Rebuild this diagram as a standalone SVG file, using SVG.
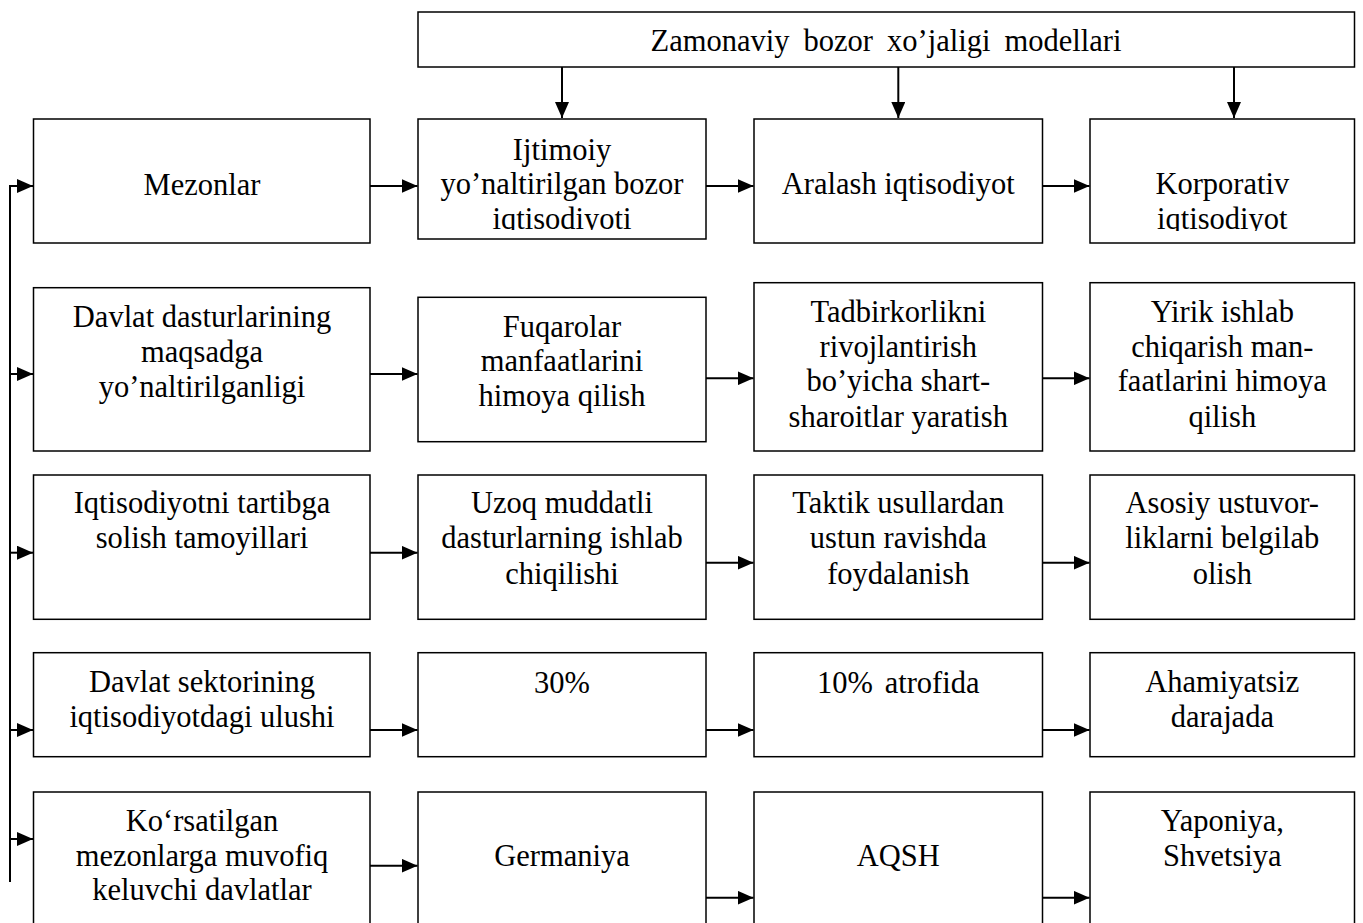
<svg xmlns="http://www.w3.org/2000/svg" width="1363" height="923" viewBox="0 0 1363 923">
<style>
.box{fill:#fff;stroke:#000;stroke-width:1.5}
.t{font-family:"Liberation Serif","Times New Roman",serif;font-size:30.5px;fill:#000;text-anchor:middle}
.c{fill:none;stroke:#000;stroke-width:2}
</style>
<defs>
<marker id="ah" markerUnits="userSpaceOnUse" markerWidth="16" markerHeight="14" refX="16" refY="7" orient="auto">
<path d="M0,0 L16,7 L0,14 z" fill="#000"/>
</marker>
<clipPath id="clipA"><rect x="418" y="100" width="288" height="130"/></clipPath>
<clipPath id="clipB"><rect x="1090" y="100" width="265" height="131"/></clipPath>
</defs>
<rect width="1363" height="923" fill="#fff"/>

<g id="top">
<rect class="box" x="418" y="12" width="936.5" height="55"/>
<text class="t" x="886" y="51" word-spacing="6.5">Zamonaviy bozor xo’jaligi modellari</text>
</g>

<g id="r1c1"><rect class="box" x="33.5" y="119" width="336.5" height="124"/>
<text class="t" x="202" y="195">Mezonlar</text></g>
<g id="r1c2"><rect class="box" x="418" y="119" width="288" height="120"/>
<g clip-path="url(#clipA)"><text class="t" x="562" y="159.5">Ijtimoiy</text>
<text class="t" x="562" y="194.3">yo’naltirilgan bozor</text>
<text class="t" x="562" y="228.8">iqtisodiyoti</text></g></g>
<g id="r1c3"><rect class="box" x="754" y="119" width="288.5" height="124"/>
<text class="t" x="898.3" y="194.3">Aralash iqtisodiyot</text></g>
<g id="r1c4"><rect class="box" x="1090" y="119" width="264.5" height="124"/>
<g clip-path="url(#clipB)"><text class="t" x="1222.3" y="194.3">Korporativ</text>
<text class="t" x="1222.3" y="228.8">iqtisodiyot</text></g></g>

<g id="r2c1"><rect class="box" x="33.5" y="287.7" width="336.5" height="163.3"/>
<text class="t" x="202" y="326.7">Davlat dasturlarining</text>
<text class="t" x="202" y="361.7">maqsadga</text>
<text class="t" x="202" y="396.7">yo’naltirilganligi</text></g>
<g id="r2c2"><rect class="box" x="418" y="297.3" width="288" height="144.4"/>
<text class="t" x="562" y="336.7">Fuqarolar</text>
<text class="t" x="562" y="371.3">manfaatlarini</text>
<text class="t" x="562" y="406">himoya qilish</text></g>
<g id="r2c3"><rect class="box" x="754" y="282.7" width="288.5" height="168.3"/>
<text class="t" x="898.3" y="321.7">Tadbirkorlikni</text>
<text class="t" x="898.3" y="356.5">rivojlantirish</text>
<text class="t" x="898.3" y="391">bo’yicha shart-</text>
<text class="t" x="898.3" y="426.5">sharoitlar yaratish</text></g>
<g id="r2c4"><rect class="box" x="1090" y="282.7" width="264.5" height="168.3"/>
<text class="t" x="1222.3" y="321.7">Yirik ishlab</text>
<text class="t" x="1222.3" y="356.5">chiqarish man-</text>
<text class="t" x="1222.3" y="391">faatlarini himoya</text>
<text class="t" x="1222.3" y="426.5">qilish</text></g>

<g id="r3c1"><rect class="box" x="33.5" y="475" width="336.5" height="144.3"/>
<text class="t" x="202" y="513.3">Iqtisodiyotni tartibga</text>
<text class="t" x="202" y="548.3">solish tamoyillari</text></g>
<g id="r3c2"><rect class="box" x="418" y="475" width="288" height="144.3"/>
<text class="t" x="562" y="513.3">Uzoq muddatli</text>
<text class="t" x="562" y="548.3">dasturlarning ishlab</text>
<text class="t" x="562" y="583.8">chiqilishi</text></g>
<g id="r3c3"><rect class="box" x="754" y="475" width="288.5" height="144.3"/>
<text class="t" x="898.3" y="513.3">Taktik usullardan</text>
<text class="t" x="898.3" y="548.3">ustun ravishda</text>
<text class="t" x="898.3" y="583.8">foydalanish</text></g>
<g id="r3c4"><rect class="box" x="1090" y="475" width="264.5" height="144.3"/>
<text class="t" x="1222.3" y="513.3">Asosiy ustuvor-</text>
<text class="t" x="1222.3" y="548.3">liklarni belgilab</text>
<text class="t" x="1222.3" y="583.8">olish</text></g>

<g id="r4c1"><rect class="box" x="33.5" y="652.7" width="336.5" height="104"/>
<text class="t" x="202" y="691.7">Davlat sektorining</text>
<text class="t" x="202" y="726.7">iqtisodiyotdagi ulushi</text></g>
<g id="r4c2"><rect class="box" x="418" y="652.7" width="288" height="104"/>
<text class="t" x="562" y="692.5">30%</text></g>
<g id="r4c3"><rect class="box" x="754" y="652.7" width="288.5" height="104"/>
<text class="t" x="898.3" y="692.5" word-spacing="4">10% atrofida</text></g>
<g id="r4c4"><rect class="box" x="1090" y="652.7" width="264.5" height="104"/>
<text class="t" x="1222.3" y="691.7">Ahamiyatsiz</text>
<text class="t" x="1222.3" y="726.7">darajada</text></g>

<g id="r5c1"><rect class="box" x="33.5" y="792" width="336.5" height="160"/>
<text class="t" x="202" y="830.7">Ko‘rsatilgan</text>
<text class="t" x="202" y="865.7">mezonlarga muvofiq</text>
<text class="t" x="202" y="900">keluvchi davlatlar</text></g>
<g id="r5c2"><rect class="box" x="418" y="792" width="288" height="160"/>
<text class="t" x="562" y="865.7">Germaniya</text></g>
<g id="r5c3"><rect class="box" x="754" y="792" width="288.5" height="160"/>
<text class="t" x="898.3" y="865.7">AQSH</text></g>
<g id="r5c4"><rect class="box" x="1090" y="792" width="264.5" height="160"/>
<text class="t" x="1222.3" y="830.7">Yaponiya,</text>
<text class="t" x="1222.3" y="865.7">Shvetsiya</text></g>

<g id="connectors">
<line class="c" x1="562" y1="67" x2="562" y2="118" marker-end="url(#ah)"/>
<line class="c" x1="898.3" y1="67" x2="898.3" y2="118" marker-end="url(#ah)"/>
<line class="c" x1="1234" y1="67" x2="1234" y2="118" marker-end="url(#ah)"/>

<path class="c" d="M10,882 V186 H33" marker-end="url(#ah)"/>
<line class="c" x1="10" y1="374" x2="33" y2="374" marker-end="url(#ah)"/>
<line class="c" x1="10" y1="552.7" x2="33" y2="552.7" marker-end="url(#ah)"/>
<line class="c" x1="10" y1="730" x2="33" y2="730" marker-end="url(#ah)"/>
<line class="c" x1="10" y1="839" x2="33" y2="839" marker-end="url(#ah)"/>

<line class="c" x1="370" y1="186" x2="417.5" y2="186" marker-end="url(#ah)"/>
<line class="c" x1="706" y1="186" x2="753.5" y2="186" marker-end="url(#ah)"/>
<line class="c" x1="1042.5" y1="186" x2="1089.5" y2="186" marker-end="url(#ah)"/>

<line class="c" x1="370" y1="374" x2="417.5" y2="374" marker-end="url(#ah)"/>
<line class="c" x1="706" y1="378.3" x2="753.5" y2="378.3" marker-end="url(#ah)"/>
<line class="c" x1="1042.5" y1="378.3" x2="1089.5" y2="378.3" marker-end="url(#ah)"/>

<line class="c" x1="370" y1="552.7" x2="417.5" y2="552.7" marker-end="url(#ah)"/>
<line class="c" x1="706" y1="562.7" x2="753.5" y2="562.7" marker-end="url(#ah)"/>
<line class="c" x1="1042.5" y1="562.7" x2="1089.5" y2="562.7" marker-end="url(#ah)"/>

<line class="c" x1="370" y1="730" x2="417.5" y2="730" marker-end="url(#ah)"/>
<line class="c" x1="706" y1="730" x2="753.5" y2="730" marker-end="url(#ah)"/>
<line class="c" x1="1042.5" y1="730" x2="1089.5" y2="730" marker-end="url(#ah)"/>

<line class="c" x1="370" y1="865.7" x2="417.5" y2="865.7" marker-end="url(#ah)"/>
<line class="c" x1="706" y1="897.7" x2="753.5" y2="897.7" marker-end="url(#ah)"/>
<line class="c" x1="1042.5" y1="897.7" x2="1089.5" y2="897.7" marker-end="url(#ah)"/>
</g>
</svg>
